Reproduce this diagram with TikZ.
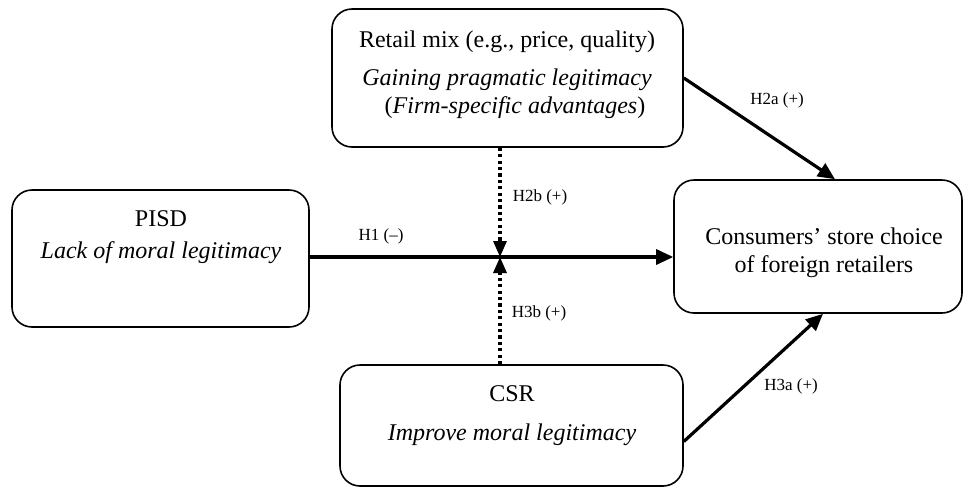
\documentclass[tikz,border=0pt]{standalone}
\usepackage{fontspec}
\setmainfont{Liberation Serif}
\usetikzlibrary{arrows.meta,positioning,calc}
\tikzset{
  box/.style={draw, rectangle, rounded corners=10pt, line width=0.8pt, inner sep=0pt},
  txt/.style={align=center, font=\fontsize{12}{14}\selectfont, inner sep=0pt},
  lbl/.style={font=\fontsize{8.5}{10}\selectfont, inner sep=1pt},
  arr/.style={-{Triangle[length=8.5pt,width=7.5pt]}, line width=1.6pt},
  darr/.style={-{Triangle[length=8pt,width=6.5pt]}, line width=1.6pt, dash pattern=on 1.6pt off 1.6pt},
}
\begin{document}
\begin{tikzpicture}[x=0.5pt,y=-0.5pt]
\useasboundingbox (0,0) rectangle (963,488);
% boxes
\node[box, minimum width=148.5pt, minimum height=68.5pt] (pisd) at (160.5,258.5) {};
\node[box, minimum width=175.5pt, minimum height=69pt] (mix) at (507.5,78) {};
\node[box, minimum width=144pt, minimum height=66.5pt] (choice) at (818,246.5) {};
\node[box, minimum width=171.5pt, minimum height=60.5pt] (csr) at (511.5,425.5) {};
% box texts
\node[txt] (pisdtxt) at (161,237) {PISD\\[2pt]\textit{Lack of moral legitimacy}};
\node[txt] (mixtxt) at (507,75) {Retail mix (e.g., price, quality)\\[5pt]\textit{Gaining pragmatic legitimacy}\\\hspace*{8pt}(\textit{Firm-specific advantages})};
\node[txt] (choicetxt) at (824,253) {Consumers’ store choice\\of foreign retailers};
\node[txt] (csrtxt) at (512,415.5) {CSR\\[5.5pt]\textit{Improve moral legitimacy}};
% paths
\coordinate (jn) at (500,257);
\draw[arr] (pisd.east |- jn) -- (jn -| choice.west);
\draw[darr] (mix.south -| jn) -- (jn);
\draw[darr] (csr.north -| jn) -- (jn);
\draw[arr] (mix.east) -- ([xshift=8.5pt]choice.north);
\draw[arr] ([yshift=-8pt]csr.east) -- ([xshift=2.5pt]choice.south);
% hypotheses
\node[lbl] (h1) at (381,236) {H1 (–)};
\node[lbl] (h2a) at (777,100) {H2a (+)};
\node[lbl] (h2b) at (540,197) {H2b (+)};
\node[lbl] (h3a) at (791,386) {H3a (+)};
\node[lbl] (h3b) at (539,313) {H3b (+)};
\end{tikzpicture}
\end{document}
